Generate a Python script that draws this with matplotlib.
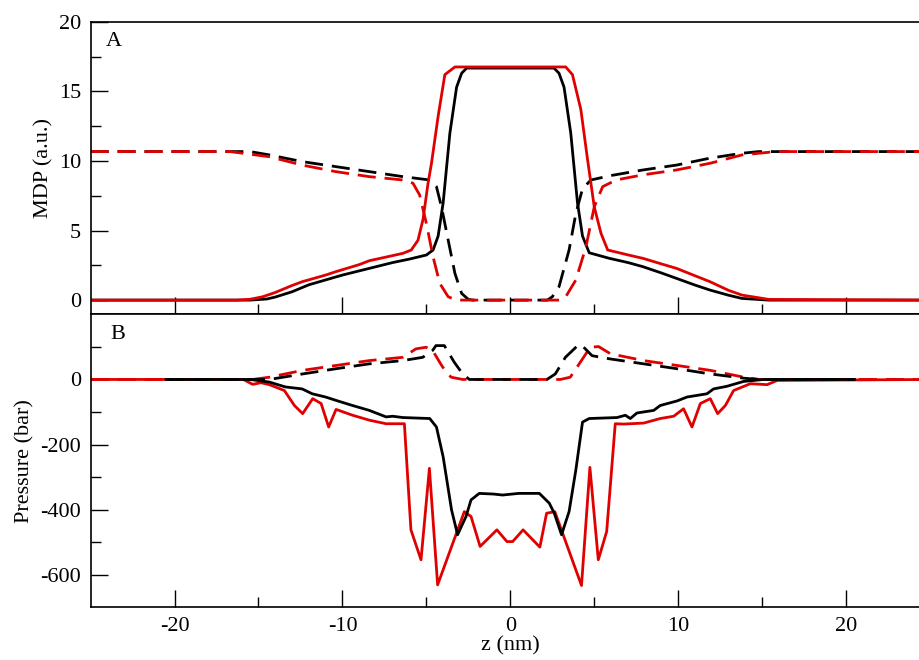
import matplotlib
matplotlib.use("Agg")
import matplotlib.pyplot as plt

plt.rcParams['font.family'] = ['Liberation Serif', 'DejaVu Serif']
plt.rcParams['font.size'] = 16
plt.rcParams['axes.unicode_minus'] = False

RED = '#e00000'

# ---- panel A: MDP (a.u.) ----
mdp_black_z = [-25, -15.5, -14.5, -14, -13, -12, -11, -10, -9, -8, -7, -6, -5, -4.6, -4.3, -4.0,
               -3.6, -3.2, -2.9, -2.6, 2.6, 2.9, 3.2, 3.6, 4.0, 4.3, 4.7, 5.9, 7, 7.9, 9, 9.9,
               11, 11.9, 13, 13.8, 15.4, 25]
mdp_black = [0, 0, 0.08, 0.22, 0.6, 1.1, 1.45, 1.8, 2.1, 2.4, 2.7, 2.95, 3.24, 3.6, 4.6, 7.0,
             12.0, 15.3, 16.3, 16.67, 16.67, 16.3, 15.3, 12.0, 7.0, 4.6, 3.4, 3.0, 2.7, 2.4, 1.95, 1.56,
             1.08, 0.72, 0.35, 0.12, 0, 0]

mdp_red_z = [-25, -16.3, -15.5, -14.75, -14, -13, -12.4, -11, -10.4, -9, -8.4, -7, -6.4, -5.9, -5.5,
             -5.2, -4.9, -4.7, -4.3, -3.9, -3.3, 3.3, 3.7, 4.2, 4.6, 5.0, 5.4, 5.8, 7, 7.9, 9, 9.9,
             11, 11.9, 13, 13.8, 15.4, 25]
mdp_red = [0, 0, 0.06, 0.24, 0.55, 1.05, 1.32, 1.8, 2.04, 2.55, 2.83, 3.2, 3.36, 3.6, 4.3,
           5.8, 8.4, 9.8, 13.2, 16.2, 16.75, 16.75, 16.2, 13.7, 10.1, 6.7, 4.8, 3.6, 3.25, 3.0, 2.6, 2.28,
           1.75, 1.32, 0.7, 0.36, 0.05, 0]

mdp_black_d_z = [-25, -15.5, -14.35, -12.4, -10.4, -8.4, -6.4, -4.8, -4.4, -4.1, -3.7, -3.3, -2.9,
                 -2.5, -2.2, 2.2, 2.5, 2.9, 3.5, 3.9, 4.3, 4.8, 6, 7.9, 9.9, 11.9, 13.8, 14.8, 25]
mdp_black_d = [10.67, 10.67, 10.43, 9.95, 9.59, 9.23, 8.87, 8.63, 8.15, 6.7, 4.3, 1.92, 0.48,
               0.05, 0, 0, 0.24, 0.96, 3.6, 6.2, 8.0, 8.63, 8.95, 9.35, 9.7, 10.2, 10.55, 10.67, 10.67]

mdp_red_d_z = [-25, -16.7, -14.35, -12.4, -10.4, -8.4, -6.4, -5.8, -5.4, -5.0, -4.6, -4.2, -3.7,
               -3.2, 3.0, 3.3, 3.9, 4.5, 5.0, 5.5, 6.3, 7.9, 9.9, 11.9, 13.8, 15.8, 25]
mdp_red_d = [10.67, 10.67, 10.3, 9.7, 9.23, 8.87, 8.63, 8.4, 7.55, 5.5, 3.1, 1.2, 0.24,
             0, 0, 0.24, 1.44, 3.8, 6.7, 8.15, 8.63, 9.0, 9.35, 9.83, 10.43, 10.67, 10.67]

# ---- panel B: Pressure (bar) ----
p_black_z = [-20.5, -15.5, -14.35, -13.4, -12.4, -11.8, -11.0, -10.4, -9.4, -8.4, -7.4, -7.0, -6.4,
             -4.8, -4.4, -4.0, -3.5, -3.14, -2.64, -2.34, -1.85, -1.0, -0.46, 0.5, 1.73, 2.32, 2.62,
             3.05, 3.5, 3.9, 4.3, 4.7, 6.35, 6.85, 7.15, 7.54, 8.54, 8.93, 9.93, 10.52, 11.71, 12.11,
             12.9, 13.9, 15.1, 20.5]
p_black = [0, 0, -8, -23, -29, -44, -54, -64, -80, -95, -115, -113, -117,
           -120, -146, -238, -401, -477, -421, -370, -350, -352, -355, -350, -350, -380, -411,
           -477, -406, -279, -131, -120, -117, -110, -120, -103, -95, -80, -66, -54, -44, -29,
           -21, -6, 0, 0]

p_red_z = [-25, -15.9, -15.35, -14.85, -14.35, -13.46, -12.86, -12.37, -11.77, -11.27, -10.82,
           -10.38, -9.39, -8.4, -7.4, -6.31, -5.92, -5.32, -4.82, -4.33, -2.74, -2.34, -1.8, -0.8,
           -0.2, 0.14, 0.76, 1.76, 2.16, 2.65, 4.24, 4.74, 5.24, 5.74, 6.25, 6.75, 7.94, 8.93, 9.73,
           10.32, 10.82, 11.32, 11.91, 12.35, 12.81, 13.3, 14.3, 15.29, 15.9, 25]
p_red = [0, 0, -15, -10, -16, -34, -80, -105, -59, -74, -146,
         -92, -110, -125, -136, -136, -462, -554, -273, -631, -406, -421, -513, -462,
         -498, -498, -462, -515, -411, -406, -633, -270, -554, -467, -136, -137, -134, -120, -113,
         -90, -146, -74, -59, -105, -80, -34, -13, -16, -3, 0]

p_black_d_z = [-20.5, -14.35, -12.37, -10.38, -8.4, -6.41, -5.22, -4.63, -4.43, -3.93, -3.34, -2.84,
               -2.44, 2.18, 2.68, 3.28, 4.07, 4.37, 4.87, 5.96, 7.94, 9.93, 11.91, 13.9, 14.8, 20.5]
p_black_d = [0, 0, 17, 33, 48, 58, 68, 89, 104, 104, 53, 17,
             0, 0, 17, 68, 107, 99, 73, 63, 48, 33, 17, 4, 0, 0]

p_red_d_z = [-25, -15.35, -14.35, -12.37, -10.38, -8.4, -6.41, -5.62, -5.02, -4.63, -4.03, -3.53,
             -2.84, 2.98, 3.57, 4.17, 4.76, 5.26, 5.96, 7.94, 9.93, 11.91, 13.9, 14.8, 25]
p_red_d = [0, 0, 7, 28, 43, 58, 68, 94, 99, 89, 38, 7,
           0, 0, 7, 53, 99, 101, 79, 58, 43, 28, 7, 0, 0]

x_major = [-20, -10, 0, 10, 20]
x_minor = [-15, -5, 5, 15]

fig = plt.figure(figsize=(9.19, 6.6), dpi=100)
ax1 = fig.add_axes([0.0986, 0.5242, 0.9134, 0.4429])
ax2 = fig.add_axes([0.0986, 0.0798, 0.9134, 0.4439])

lw = 2.0
dash = (6.5, 3.2)

ax1.plot(mdp_black_z, mdp_black, color='black', lw=lw)
ax1.plot(mdp_black_d_z, mdp_black_d, color='black', lw=lw, dashes=dash)
ax1.plot(mdp_red_z, mdp_red, color=RED, lw=lw)
ax1.plot(mdp_red_d_z, mdp_red_d, color=RED, lw=lw, dashes=dash)

ax2.plot(p_red_z, p_red, color=RED, lw=lw)
ax2.plot(p_red_d_z, p_red_d, color=RED, lw=lw, dashes=dash)
ax2.plot(p_black_z, p_black, color='black', lw=lw)
ax2.plot(p_black_d_z, p_black_d, color='black', lw=lw, dashes=dash)

ax1.set_xlim(-25, 25)
ax1.set_ylim(-1, 20)
ax1.set_yticks([0, 5, 10, 15, 20])
ax1.set_yticks([2.5, 7.5, 12.5, 17.5], minor=True)
ax1.set_ylabel('MDP (a.u.)')

ax2.set_xlim(-25, 25)
ax2.set_ylim(-700, 200)
ax2.set_yticks([-600, -400, -200, 0])
ax2.set_yticks([-500, -300, -100, 100], minor=True)
ax2.set_ylabel('Pressure (bar)')
ax2.set_xlabel('z (nm)', labelpad=0)

for ax in (ax1, ax2):
    ax.set_xticks(x_major)
    ax.set_xticks(x_minor, minor=True)
    ax.tick_params(which='major', direction='in', length=12, width=1.0, top=False, right=False)
    ax.tick_params(which='minor', direction='in', length=7, width=1.0, top=False, right=False)
    ax.tick_params(axis='y', pad=7)
    ax.tick_params(axis='x', pad=7)
    for s in ax.spines.values():
        s.set_linewidth(1.2)

ax1.tick_params(labelbottom=False)

ax1.text(0.018, 0.965, 'A', transform=ax1.transAxes, ha='left', va='top')
ax2.text(0.023, 0.965, 'B', transform=ax2.transAxes, ha='left', va='top')

fig.savefig('out.png', dpi=100)
